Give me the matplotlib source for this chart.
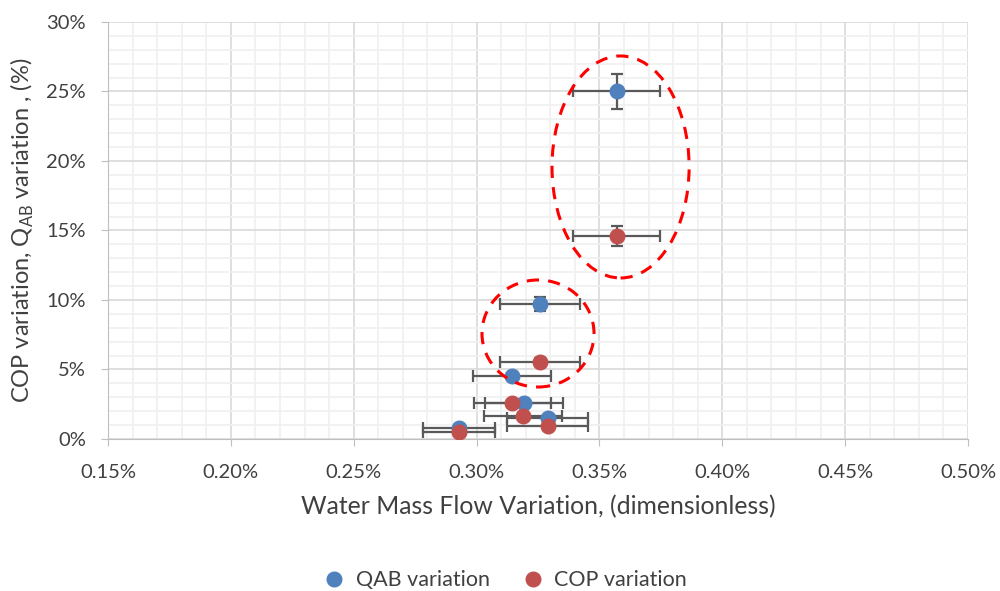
import numpy as np
import matplotlib.pyplot as plt
from matplotlib.ticker import MultipleLocator, FuncFormatter
from matplotlib.patches import Ellipse
from matplotlib.lines import Line2D

plt.rcParams['font.family'] = ['Lato', 'DejaVu Sans']

# data (percent values)
flow_qab = [0.357, 0.3258, 0.3144, 0.3193, 0.3289, 0.293]
qab_var = [25.0, 9.71, 4.53, 2.61, 1.53, 0.77]
flow_cop = [0.357, 0.3258, 0.3145, 0.319, 0.3289, 0.293]
cop_var = [14.6, 5.54, 2.61, 1.65, 0.96, 0.53]
err_frac = 0.05  # 5% error bars

blue = '#4F81BD'
red = '#C0504D'
txt = '#404040'

fig = plt.figure(figsize=(10, 5.91), dpi=100)
ax = fig.add_axes([0.108, 0.2572, 0.86, 0.7056])

for xs, ys, c in [(flow_qab, qab_var, blue), (flow_cop, cop_var, red)]:
    xs = np.array(xs)
    ys = np.array(ys)
    ax.errorbar(xs, ys, xerr=xs * err_frac, yerr=ys * err_frac, fmt='none',
                ecolor='#595959', elinewidth=1.6, capsize=4, capthick=1.6, zorder=3)
    ax.plot(xs, ys, 'o', color=c, markersize=10.5, zorder=4)

# highlight rings
ax.add_patch(Ellipse((0.3586, 19.57), 0.0558, 15.97, fill=False, ec='#FF0000',
                     lw=2.2, ls=(0, (4, 3)), zorder=5))
ax.add_patch(Ellipse((0.325, 7.59), 0.0456, 7.7, fill=False, ec='#FF0000',
                     lw=2.2, ls=(0, (4, 3)), zorder=5))

ax.set_xlim(0.15, 0.50)
ax.set_ylim(0, 30)
ax.xaxis.set_major_locator(MultipleLocator(0.05))
ax.xaxis.set_minor_locator(MultipleLocator(0.01))
ax.yaxis.set_major_locator(MultipleLocator(5))
ax.yaxis.set_minor_locator(MultipleLocator(1))
ax.xaxis.set_major_formatter(FuncFormatter(lambda v, p: '%.2f%%' % v))
ax.yaxis.set_major_formatter(FuncFormatter(lambda v, p: '%d%%' % round(v)))

ax.grid(which='major', color='#D9D9D9', lw=1.2, zorder=0)
ax.grid(which='minor', color='#F0F0F0', lw=1.2, zorder=0)
ax.set_axisbelow(True)
for s in ['top', 'right']:
    ax.spines[s].set_visible(False)
for s in ['left', 'bottom']:
    ax.spines[s].set_color('#BFBFBF')
ax.tick_params(axis='both', which='major', length=5, color='#BFBFBF', labelsize=14.5,
               labelcolor=txt, pad=11)
ax.tick_params(axis='x', which='major', pad=13)
ax.tick_params(axis='both', which='minor', length=0)

ax.set_xlabel('Water Mass Flow Variation, (dimensionless)', fontsize=17.8,
              color=txt, labelpad=10)
ax.set_ylabel('COP variation, Q$_{\\mathregular{AB}}$ variation , (%)', fontsize=17,
              color=txt, labelpad=7)

handles = [Line2D([], [], ls='none', marker='o', color=blue, markersize=10.5),
           Line2D([], [], ls='none', marker='o', color=red, markersize=10.5)]
fig.legend(handles, ['QAB variation', 'COP variation'], loc='center',
           bbox_to_anchor=(0.5, 0.018), ncol=2, frameon=False, fontsize=15.5,
           handletextpad=0.0, columnspacing=1.0, labelcolor=txt)

fig.savefig('out.png', dpi=100)
